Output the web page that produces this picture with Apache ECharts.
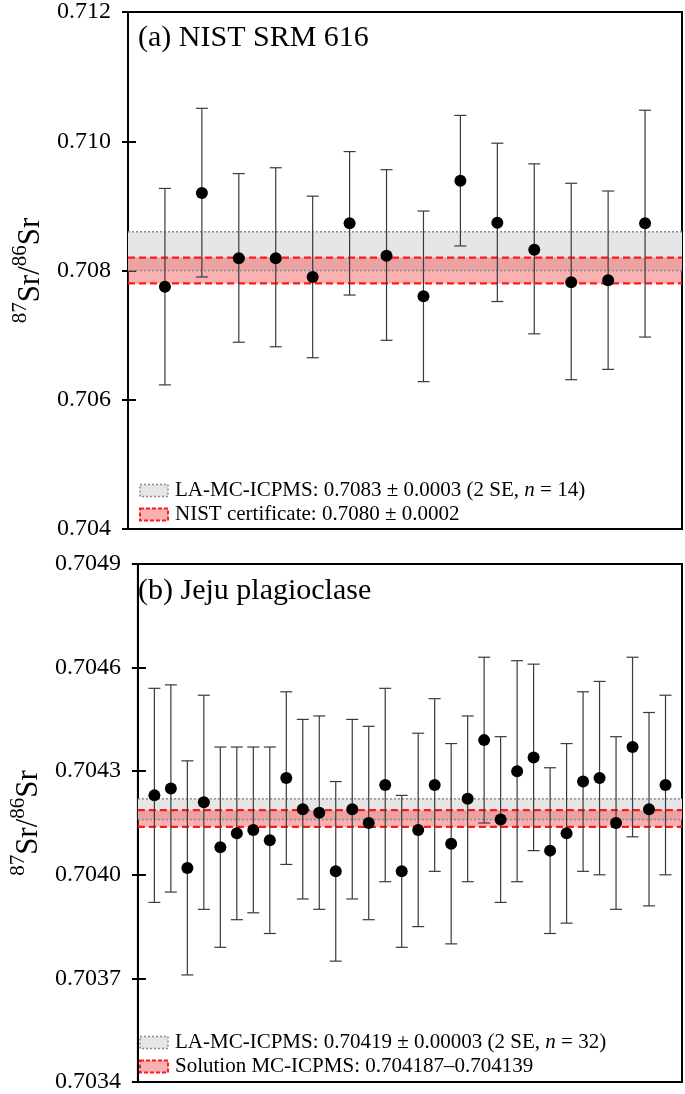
<!DOCTYPE html>
<html><head><meta charset="utf-8">
<script src="https://cdn.jsdelivr.net/npm/echarts@6/dist/echarts.min.js"></script>
<style>html,body{margin:0;padding:0;background:#fff}#c{width:685px;height:1094px}</style>
</head><body><div id="c"></div><script>
// ---------- DATA ----------
// (a) NIST SRM 616 : 87Sr/86Sr with 2SE error bar ends
const srmRatio = [0.70775,0.70920,0.70819,0.70819,0.70790,0.70873,0.70823,0.70760,0.70939,0.70874,0.70832,0.70782,0.70785,0.70873];
const srmLow   = [0.70623,0.70790,0.70689,0.70682,0.70665,0.70762,0.70692,0.70628,0.70838,0.70752,0.70702,0.70631,0.70647,0.70697];
const srmHigh  = [0.70927,0.71051,0.70950,0.70959,0.70915,0.70984,0.70956,0.70892,0.71040,0.70997,0.70965,0.70935,0.70923,0.71048];
const srmLaBand   = [0.7080, 0.7086];
const srmNistBand = [0.7078, 0.7082];
const srmLaName   = 'LA-MC-ICPMS: 0.7083 ± 0.0003 (2 SE, n = 14)';
const srmNistName = 'NIST certificate: 0.7080 ± 0.0002';
const srmTitle = '(a) NIST SRM 616';
const srmTicks = {min: 0.704, max: 0.712, interval: 0.002, digits: 3};

// (b) Jeju plagioclase
const jejuRatio = [0.70423,0.70425,0.70402,0.70421,0.70408,0.70412,0.70413,0.70410,0.70428,0.70419,0.70418,0.70401,0.70419,0.70415,0.70426,0.70401,0.70413,0.70426,0.70409,0.70422,0.70439,0.70416,0.70430,0.70434,0.70407,0.70412,0.70427,0.70428,0.70415,0.70437,0.70419,0.70426];
const jejuLow   = [0.70392,0.70395,0.70371,0.70390,0.70379,0.70387,0.70389,0.70383,0.70403,0.70393,0.70390,0.70375,0.70393,0.70387,0.70398,0.70379,0.70385,0.70401,0.70380,0.70398,0.70415,0.70392,0.70398,0.70407,0.70383,0.70386,0.70401,0.70400,0.70390,0.70411,0.70391,0.70400];
const jejuHigh  = [0.70454,0.70455,0.70433,0.70452,0.70437,0.70437,0.70437,0.70437,0.70453,0.70445,0.70446,0.70427,0.70445,0.70443,0.70454,0.70423,0.70441,0.70451,0.70438,0.70446,0.70463,0.70440,0.70462,0.70461,0.70431,0.70438,0.70453,0.70456,0.70440,0.70463,0.70447,0.70452];
const jejuLaBand  = [0.70416, 0.70422];
const jejuSolBand = [0.704139, 0.704187];
const jejuLaName  = 'LA-MC-ICPMS: 0.70419 ± 0.00003 (2 SE, n = 32)';
const jejuSolName = 'Solution MC-ICPMS: 0.704187–0.704139';
const jejuTitle = '(b) Jeju plagioclase';
const jejuTicks = {min: 0.7034, max: 0.7049, interval: 0.0003, digits: 4};

// ---------- STYLE ----------
const FONT = "'Liberation Serif', 'Times New Roman', serif";
const GREY_FILL = '#e6e6e6', GREY_LINE = '#8a8a8a';
const RED_FILL = 'rgba(242,70,70,0.42)', RED_LINE = '#ff1a1a';

const panels = [
  {ratio: srmRatio, low: srmLow, high: srmHigh, la: srmLaBand, ref: srmNistBand,
   laName: srmLaName, refName: srmNistName, title: srmTitle, ticks: srmTicks,
   top: 11, height: 518, legendTop: 480},
  {ratio: jejuRatio, low: jejuLow, high: jejuHigh, la: jejuLaBand, ref: jejuSolBand,
   laName: jejuLaName, refName: jejuSolName, title: jejuTitle, ticks: jejuTicks,
   top: 564, height: 519, legendTop: 1032}
];

const grid = [], xAxis = [], yAxis = [], series = [], legend = [], title = [];
const LEFT = 128, RIGHT = 3;

function errRender(params, api) {
  const x = api.value(0), lo = api.value(1), hi = api.value(2);
  const a = api.coord([x, lo]), b = api.coord([x, hi]);
  const cap = 6;
  const st = {stroke: '#3a3a3a', lineWidth: 1.2};
  return {type: 'group', children: [
    {type: 'line', shape: {x1: a[0], y1: a[1], x2: b[0], y2: b[1]}, style: st},
    {type: 'line', shape: {x1: a[0]-cap, y1: a[1], x2: a[0]+cap, y2: a[1]}, style: st},
    {type: 'line', shape: {x1: b[0]-cap, y1: b[1], x2: b[0]+cap, y2: b[1]}, style: st}
  ]};
}

// band: data item [lo, hi]; draws fill and/or edge lines across the whole grid width
function bandRender(fill, edge) {
  return function (params, api) {
    const cs = params.coordSys;
    const y0 = api.coord([0, api.value(0)])[1], y1 = api.coord([0, api.value(1)])[1];
    const ch = [];
    if (fill) ch.push({type: 'rect', shape: {x: cs.x, y: Math.min(y0, y1), width: cs.width, height: Math.abs(y0 - y1)},
                       style: {fill: fill}});
    if (edge) [y0, y1].forEach(y => ch.push({type: 'line', shape: {x1: cs.x, y1: y, x2: cs.x + cs.width, y2: y},
                       style: {stroke: edge.color, lineWidth: edge.width, lineDash: edge.dash}}));
    return {type: 'group', children: ch};
  };
}

const nameRich = {
  b: {fontFamily: FONT, fontSize: 31, color: '#000', lineHeight: 36, verticalAlign: 'bottom'},
  s: {fontFamily: FONT, fontSize: 21, color: '#000', lineHeight: 36, verticalAlign: 'top'}
};

panels.forEach((p, i) => {
  const n = p.ratio.length;
  grid.push({left: LEFT, right: RIGHT, top: p.top, height: p.height, show: true,
             borderColor: '#000', borderWidth: 2, backgroundColor: 'transparent'});
  xAxis.push({type: 'value', gridIndex: i, min: 0, max: n + 1, position: 'bottom',
              axisLine: {show: true, onZero: false, lineStyle: {color: '#000', width: 2}},
              axisTick: {show: false}, axisLabel: {show: false}, splitLine: {show: false}});
  const t = p.ticks;
  yAxis.push({type: 'value', gridIndex: i, position: 'left', min: t.min, max: t.max, interval: t.interval,
              axisLine: {show: true, onZero: false, lineStyle: {color: '#000', width: 2}},
              axisTick: {show: true, inside: true, length: 8, lineStyle: {color: '#000', width: 2}},
              axisLabel: {show: true, margin: 17, fontFamily: FONT, fontSize: 24, color: '#000',
                          formatter: v => v.toFixed(t.digits)},
              splitLine: {show: false},
              name: '{s|87}{b|Sr/}{s|86}{b|Sr}', nameLocation: 'middle', nameRotate: 90, nameGap: 78,
              nameTextStyle: {rich: nameRich}});
  yAxis.push({type: 'value', gridIndex: i, position: 'left', offset: 0, min: t.min, max: t.max, interval: t.interval,
              axisLine: {show: false, onZero: false}, axisLabel: {show: false}, splitLine: {show: false},
              axisTick: {show: true, inside: false, length: 6, lineStyle: {color: '#000', width: 2}}});
  const xi = i, yi = 2 * i;
  const idx = p.ratio.map((_, k) => k + 1);

  // LA-MC-ICPMS band fill (grey)
  series.push({type: 'custom', name: p.laName, xAxisIndex: xi, yAxisIndex: yi, z: 1, silent: true,
    itemStyle: {color: GREY_FILL}, renderItem: bandRender(GREY_FILL, null),
    encode: {y: [0, 1]}, data: [p.la]});
  // Reference band fill + dashed edges (red)
  series.push({type: 'custom', name: p.refName, xAxisIndex: xi, yAxisIndex: yi, z: 2, silent: true,
    itemStyle: {color: RED_FILL}, renderItem: bandRender(RED_FILL, {color: RED_LINE, width: 2.2, dash: [7, 4]}),
    encode: {y: [0, 1]}, data: [p.ref]});
  // LA band dotted edges
  series.push({type: 'custom', xAxisIndex: xi, yAxisIndex: yi, z: 3, silent: true,
    renderItem: bandRender(null, {color: GREY_LINE, width: 1.5, dash: [2, 2]}),
    encode: {y: [0, 1]}, data: [p.la]});
  // error bars
  series.push({type: 'custom', xAxisIndex: xi, yAxisIndex: yi, z: 5, silent: true,
    renderItem: errRender, encode: {x: 0, y: [1, 2]},
    data: idx.map((x, k) => [x, p.low[k], p.high[k]])});
  // points
  series.push({type: 'scatter', xAxisIndex: xi, yAxisIndex: yi, z: 6, silent: true,
    symbol: 'circle', symbolSize: 12, itemStyle: {color: '#000', opacity: 1},
    data: idx.map((x, k) => [x, p.ratio[k]])});

  legend.push({show: true, orient: 'vertical', left: 139, top: p.legendTop, padding: 0,
    itemWidth: 28, itemHeight: 12, itemGap: 3, selectedMode: false,
    textStyle: {fontFamily: FONT, fontSize: 21, color: '#000', padding: [0, 0, 0, 2],
      rich: {i: {fontFamily: FONT, fontSize: 21, color: '#000', fontStyle: 'italic'},
             r: {fontFamily: FONT, fontSize: 21, color: '#000'}}},
    formatter: nm => nm.indexOf('n = ') >= 0 ? '{r|' + nm.replace('n = ', '}{i|n}{r| = ') + '}' : nm,
    data: [
      {name: p.laName, icon: 'rect', itemStyle: {color: GREY_FILL, borderColor: GREY_LINE, borderType: [2, 2], borderWidth: 1.5}},
      {name: p.refName, icon: 'rect', itemStyle: {color: RED_FILL, borderColor: RED_LINE, borderType: [4, 2], borderWidth: 2}}
    ]});
  title.push({text: p.title, left: 138, top: p.top + 12, padding: 0,
    textStyle: {fontFamily: FONT, fontSize: 30, fontWeight: 'normal', color: '#000'}});
});

const chart = echarts.init(document.getElementById('c'), null, {renderer: 'canvas'});
chart.setOption({animation: false, backgroundColor: '#fff', title, grid, xAxis, yAxis, legend, series});
</script></body></html>
